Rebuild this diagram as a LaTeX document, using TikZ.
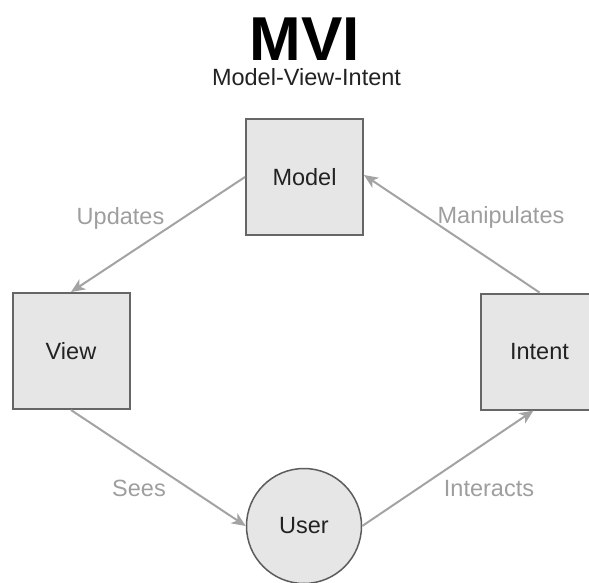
\documentclass[tikz,border=0pt]{standalone}
\usepackage{fontspec}
\setmainfont{Liberation Sans}
\usetikzlibrary{arrows.meta}

\definecolor{boxfill}{HTML}{E6E6E6}
\definecolor{boxline}{HTML}{666666}
\definecolor{linkgray}{HTML}{A3A3A3}
\definecolor{labelgray}{HTML}{9E9E9E}
\definecolor{inktext}{HTML}{222222}

\tikzset{
  block/.style={draw=boxline, fill=boxfill, line width=2pt,
    minimum width=117pt, minimum height=116pt, inner sep=0pt,
    text=inktext, font=\fontsize{23.5}{26}\selectfont},
  actor/.style={circle, draw=boxline!90!black, fill=boxfill, line width=1.5pt,
    minimum size=115pt, inner sep=0pt,
    text=inktext, font=\fontsize{23.5}{26}\selectfont},
  link/.style={draw=linkgray, line width=2pt,
    -{Stealth[length=14pt, width=12pt, inset=4pt]}},
  linklabel/.style={text=labelgray, anchor=base, inner sep=0pt,
    font=\fontsize{23.5}{26}\selectfont},
}

\begin{document}
\begin{tikzpicture}[x=1pt, y=-1pt]
  \useasboundingbox (0,0) rectangle (589,583);
  \clip (0,0) rectangle (589,583);

  % title
  \node[anchor=base, inner sep=0pt, font=\fontsize{62}{68}\selectfont\bfseries] (title) at (305,61) {MVI};
  \node[anchor=base, inner sep=0pt, text=inktext, font=\fontsize{23.5}{26}\selectfont] (subtitle) at (306.5,86) {Model-View-Intent};

  % the four parts
  \node[block] (model) at (304.5,177) {Model};
  \node[block] (view) at (71,351) {View};
  \node[block] (intent) at (539.5,351.5) {Intent};
  \node[actor] (user) at (304,526) {User};

  % flow around the loop
  \draw[link] (model.west) -- (view.north);
  \draw[link] (view.south) -- (user.west);
  \draw[link] (user.east) -- ([xshift=-6pt]intent.south);
  \draw[link] (intent.north) -- ([yshift=2pt]model.east);

  % labels on the links
  \node[linklabel] (lupdates) at (120.5,224) {Updates};
  \node[linklabel] (lsees) at (139,496) {Sees};
  \node[linklabel] (linteracts) at (489,496) {Interacts};
  \node[linklabel] (lmanip) at (501,223) {Manipulates};
\end{tikzpicture}
\end{document}
